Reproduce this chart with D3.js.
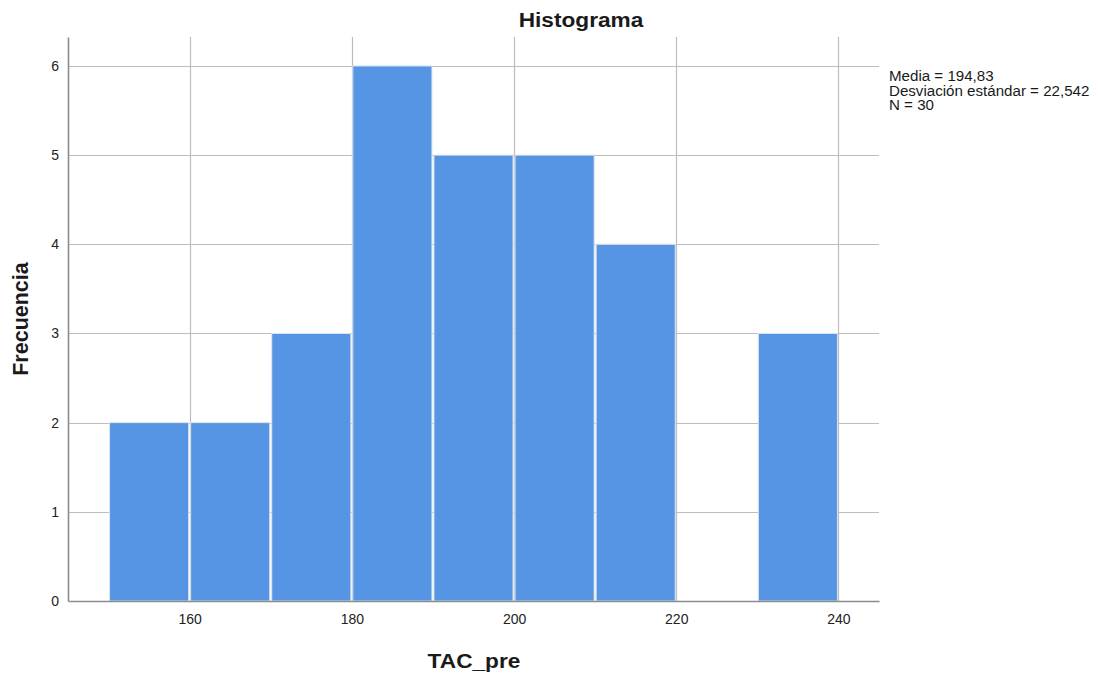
<!DOCTYPE html>
<html>
<head>
<meta charset="utf-8">
<script src="https://cdn.jsdelivr.net/npm/d3@7"></script>
<style>
  body { margin: 0; background: #fff; }
  svg { display: block; font-family: "Liberation Sans", Arial, sans-serif; }
</style>
</head>
<body>
<svg id="chart" width="1098" height="675"></svg>
<script>
// Histogram of TAC_pre: bin edges (lower bound, width 10) and counts
const binStarts = [150, 160, 170, 180, 190, 200, 210, 220, 230];
const binWidth = 10;
const counts = [2, 2, 3, 6, 5, 5, 4, 0, 3];
const xTicks = [160, 180, 200, 220, 240];
const yTicks = [0, 1, 2, 3, 4, 5, 6];
const statsLines = ["Media = 194,83", "Desviación estándar = 22,542", "N = 30"];

const svg = d3.select("#chart");
const plotL = 68, plotR = 879, plotT = 37, plotB = 601;
const wide = 1.08; // horizontal stretch of the label font

const x = d3.scaleLinear().domain([145, 245]).range([plotL, plotR]);
const y = d3.scaleLinear().domain([0, 6.325]).range([plotB, plotT]);

// grid lines
svg.append("g").selectAll("line").data(yTicks.filter(d => d > 0)).join("line")
  .attr("x1", plotL).attr("x2", plotR)
  .attr("y1", d => Math.round(y(d)) + 0.5).attr("y2", d => Math.round(y(d)) + 0.5)
  .attr("stroke", "#bdbdbd").attr("stroke-width", 1.2);
svg.append("g").selectAll("line").data(xTicks).join("line")
  .attr("y1", plotT).attr("y2", plotB)
  .attr("x1", d => Math.round(x(d)) + 0.5).attr("x2", d => Math.round(x(d)) + 0.5)
  .attr("stroke", "#bdbdbd").attr("stroke-width", 1.2);

// bars
const bins = binStarts.map((s, i) => ({ x0: s, x1: s + binWidth, n: counts[i] }));
svg.append("g").selectAll("rect").data(bins.filter(d => d.n > 0)).join("rect")
  .attr("x", d => x(d.x0) + 1)
  .attr("width", d => x(d.x1) - x(d.x0) - 2)
  .attr("y", d => y(d.n))
  .attr("height", d => y(0) - y(d.n))
  .attr("fill", "#5595e3")
  .attr("stroke", "#dbe3ec").attr("stroke-width", 1);

// axes
const xAxis = svg.append("g").attr("transform", `translate(0,${plotB})`)
  .call(d3.axisBottom(x).tickValues(xTicks).tickSize(0).tickPadding(13));
const yAxis = svg.append("g").attr("transform", `translate(${plotL},0)`)
  .call(d3.axisLeft(y).tickValues(yTicks).tickFormat(d3.format("d")).tickSize(0).tickPadding(9));
[xAxis, yAxis].forEach(g => {
  g.select(".domain").attr("stroke", "#8c8c8c").attr("stroke-width", 1.6);
  g.selectAll("text").attr("font-size", 14).attr("fill", "#222")
    .attr("font-family", "Liberation Sans, Arial, sans-serif");
});

// horizontal text helper with the slightly wide font
function label(px, py, txt, size, bold, anchor) {
  return svg.append("text")
    .attr("transform", `translate(${px},${py}) scale(${wide},1)`)
    .attr("text-anchor", anchor || "start")
    .attr("font-size", size).attr("font-weight", bold ? "bold" : "normal")
    .attr("fill", "#1a1a1a").text(txt);
}

// titles
label(581, 27, "Histograma", 21, true, "middle");
label(474, 668, "TAC_pre", 21, true, "middle");
svg.append("text").attr("transform", `translate(28,${(plotT + plotB) / 2}) rotate(-90)`)
  .attr("text-anchor", "middle")
  .attr("font-size", 21.5).attr("font-weight", "bold").attr("fill", "#1a1a1a")
  .text("Frecuencia");

// summary statistics
statsLines.forEach((t, i) => label(889, 81 + i * 14.5, t, 14, false, "start"));
</script>
</body>
</html>
